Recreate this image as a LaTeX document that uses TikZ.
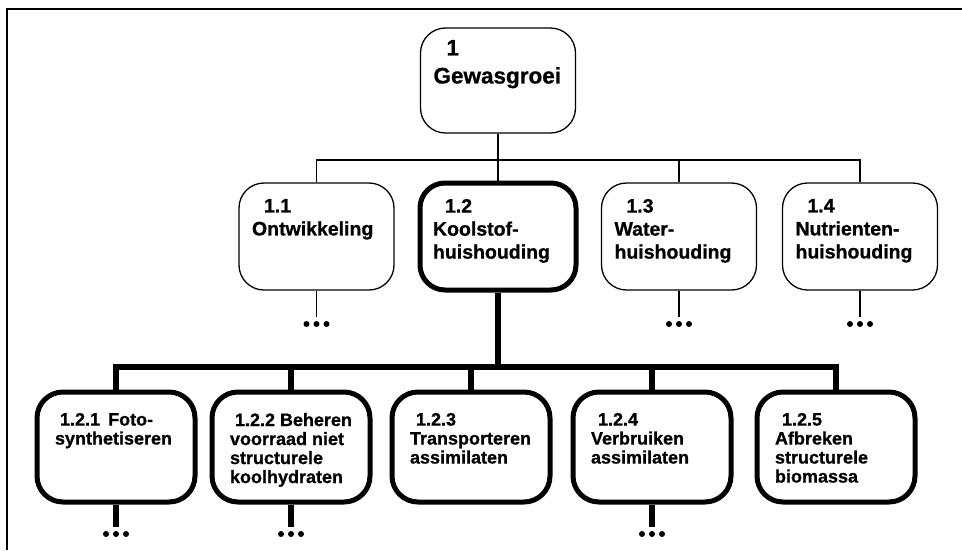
\documentclass[tikz,border=0pt]{standalone}
\usepackage{fontspec}
\setmainfont{Liberation Sans}[BoldFeatures={FakeBold=0.8}]
\newcommand{\bxt}[3]{\parbox[c][#2][t]{#1}{\raggedright #3}}
\begin{document}
\begin{tikzpicture}[x=1pt,y=-1pt,
  thinln/.style={line width=1.3pt},
  thickln/.style={line width=6pt},
  topbox/.style={draw, rounded corners=25pt, line width=1.3pt, inner xsep=13pt, inner ysep=12pt,
    font=\fontsize{22.5}{28}\selectfont\bfseries},
  midbox/.style={draw, rounded corners=25pt, line width=1.3pt, inner xsep=13pt, inner ysep=16pt,
    font=\fontsize{19.5}{23}\selectfont\bfseries},
  midthick/.style={midbox, line width=5pt},
  lowbox/.style={draw, rounded corners=26pt, line width=5pt, inner xsep=18pt, inner ysep=21pt,
    font=\fontsize{18}{19}\selectfont\bfseries},
  dotfill/.style={fill=black}
]
\useasboundingbox (0,0) rectangle (962,550);
% frame
\coordinate (fa) at (7,550);
\coordinate (fb) at (7,9);
\coordinate (fc) at (962,9);
\draw[line width=2.5pt] (fa) -- (fb) -- (fc);

% level 1
\node[topbox] (n1) at (498,80.5) {\bxt{129pt}{81pt}{\hspace*{13pt}1\\Gewasgroei}};

% level 2
\node[midbox] (n11) at (316.5,236.5) {\bxt{129pt}{75pt}{\hspace*{12pt}1.1\\Ontwikkeling}};
\node[midthick] (n12) at (498,236.5) {\bxt{130pt}{75pt}{\hspace*{12pt}1.2\\Koolstof-\\huishouding}};
\node[midbox] (n13) at (679,236.5) {\bxt{129pt}{75pt}{\hspace*{12pt}1.3\\Water-\\huishouding}};
\node[midbox] (n14) at (860,236.5) {\bxt{129pt}{75pt}{\hspace*{12pt}1.4\\Nutrienten-\\huishouding}};

\coordinate (b1) at (498,160);
\draw[thinln] (n1.south) -- (b1);
\draw[thinln] (n11.north) |- (b1);
\draw[thinln] (n13.north) |- (b1);
\draw[thinln] (n14.north) |- (b1);
\draw[thinln] (n12.north) -- (b1);

% level 3
\node[lowbox] (n121) at (116,447) {\bxt{122pt}{68pt}{\hspace*{5pt}1.2.1\hspace{0.45em}Foto-\\synthetiseren}};
\node[lowbox] (n122) at (291,447) {\bxt{122pt}{68pt}{\hspace*{5pt}1.2.2 Beheren\\voorraad niet\\structurele\\koolhydraten}};
\node[lowbox] (n123) at (471,447) {\bxt{122pt}{68pt}{\hspace*{6pt}1.2.3\\Transporteren\\assimilaten}};
\node[lowbox] (n124) at (652,447) {\bxt{122pt}{68pt}{\hspace*{7pt}1.2.4\\Verbruiken\\assimilaten}};
\node[lowbox] (n125) at (836,447) {\bxt{122pt}{68pt}{\hspace*{7pt}1.2.5\\Afbreken\\structurele\\biomassa}};

\coordinate (b2) at (498,367);
\draw[thickln] (n12.south) -- (b2);
\draw[thickln] (n121.north) |- (b2);
\draw[thickln] (n122.north) |- (b2);
\draw[thickln] (n123.north) |- (b2);
\draw[thickln] (n124.north) |- (b2);
\draw[thickln] (n125.north) |- (b2);

% continuation stubs with dots
\coordinate (e11) at (316.5,317);
\coordinate (e13) at (679,317);
\coordinate (e14) at (860,317);
\draw[thinln] (n11.south) -- (e11);
\draw[thinln] (n13.south) -- (e13);
\draw[thinln] (n14.south) -- (e14);
\coordinate (e121) at (116,527);
\coordinate (e122) at (291,527);
\coordinate (e124) at (652,527);
\draw[thickln] (n121.south) -- (e121);
\draw[thickln] (n122.south) -- (e122);
\draw[thickln] (n124.south) -- (e124);
\foreach \e in {e11,e13,e14,e121,e122,e124}{
  \foreach \dx in {-10,0,10}{
    \fill[dotfill] ([xshift=\dx pt,yshift=-7pt]\e) circle (3pt);
  }
}
\end{tikzpicture}
\end{document}
